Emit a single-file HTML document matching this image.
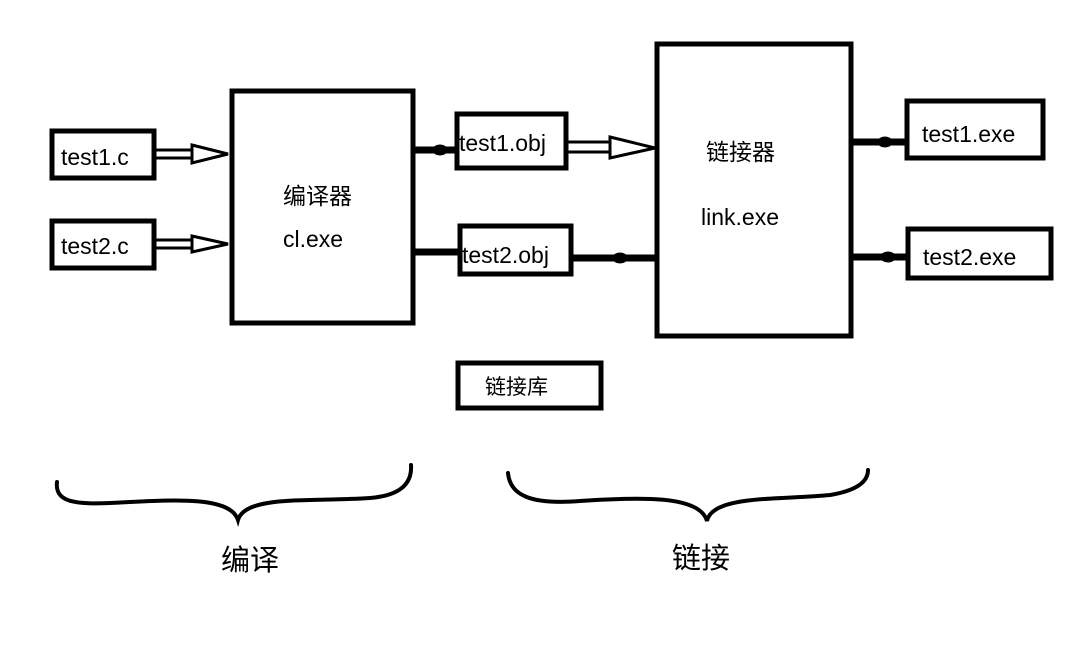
<!DOCTYPE html>
<html><head><meta charset="utf-8"><style>
body{margin:0;background:#fff;width:1068px;height:651px;overflow:hidden;font-family:"Liberation Sans","Noto Sans CJK SC",sans-serif}
</style></head><body>
<svg width="1068" height="651" xmlns="http://www.w3.org/2000/svg" style="position:absolute;left:0;top:0">
<g fill="none" stroke="#000" stroke-width="5">
<rect x="52" y="131" width="102" height="47"/>
<rect x="52" y="221" width="102" height="47"/>
<rect x="232" y="91" width="181" height="232"/>
<rect x="457" y="114" width="109" height="54"/>
<rect x="460" y="226" width="111" height="48"/>
<rect x="657" y="44" width="194" height="292"/>
<rect x="907" y="101" width="136" height="57"/>
<rect x="908" y="229" width="143" height="49"/>
<rect x="458" y="363" width="143" height="45"/>
</g>
<g stroke="#000" stroke-width="3" fill="none">
<path d="M156 150 H192 M156 158 H192 M192 145 L228 154 L192 163 Z"/>
<path d="M156 240 H192 M156 248 H192 M192 236 L228 244 L192 252 Z"/>
<path d="M568 142 H610 M568 152 H610 M610 137 L655 148 L610 158 Z"/>
</g>
<g stroke="#000" stroke-width="7">
<line x1="412" y1="150" x2="456" y2="150"/>
<line x1="414" y1="252" x2="458" y2="252"/>
<line x1="573" y1="258" x2="655" y2="258"/>
<line x1="853" y1="142" x2="905" y2="142"/>
<line x1="853" y1="257" x2="906" y2="257"/>
</g>
<g fill="none" stroke="#000" stroke-width="3">
<ellipse cx="440" cy="150" rx="6" ry="4"/>
<ellipse cx="620" cy="258" rx="6" ry="4"/>
<ellipse cx="885" cy="142" rx="6" ry="4"/>
<ellipse cx="888" cy="257" rx="6" ry="4"/>
</g>
<g fill="none" stroke="#000" stroke-width="4" stroke-linecap="round">
<path d="M57 482 C55 500 70 505 110 503 C170 500 230 495 238 520 C245 495 310 502 370 498 C405 495 412 480 411 465"/>
<path d="M508 473 C510 495 530 505 580 501 C640 497 700 495 707 521 C712 495 780 500 830 495 C860 490 868 480 868 470"/>
</g>
<g font-family="Liberation Sans, Noto Sans CJK SC, sans-serif" fill="#000">
<text x="61" y="165" font-size="23">test1.c</text>
<text x="61" y="254" font-size="23">test2.c</text>
<text x="283" y="204" font-size="23">编译器</text>
<text x="283" y="247" font-size="23">cl.exe</text>
<text x="459" y="151" font-size="23">test1.obj</text>
<text x="462" y="263" font-size="23">test2.obj</text>
<text x="706" y="160" font-size="23">链接器</text>
<text x="701" y="225" font-size="23">link.exe</text>
<text x="922" y="142" font-size="23">test1.exe</text>
<text x="923" y="265" font-size="23">test2.exe</text>
<text x="485" y="394" font-size="21">链接库</text>
<text x="221" y="570" font-size="29">编译</text>
<text x="672" y="568" font-size="29">链接</text>
</g>
</svg>
</body></html>
